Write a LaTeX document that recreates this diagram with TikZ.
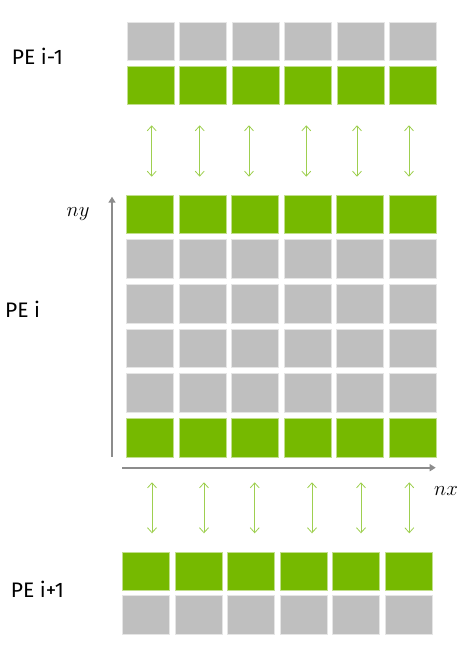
\documentclass[tikz,border=0pt]{standalone}
\usepackage{fontspec}
\setmainfont{Fira Sans}
\usetikzlibrary{arrows.meta}
\definecolor{nvgreen}{HTML}{76B900}
\definecolor{cellgray}{HTML}{BFBFBF}
\definecolor{axisgray}{HTML}{8C8C8C}
\definecolor{arrowgreen}{HTML}{9ECF4F}
\begin{document}
\begin{tikzpicture}[x=1pt,y=-1pt,
  cell/.style={minimum width=47pt,minimum height=38.7pt,inner sep=0pt,outer sep=0pt,anchor=north west,line width=0.8pt},
  gcell/.style={cell,fill=nvgreen,draw=nvgreen!45!white},
  scell/.style={cell,fill=cellgray,draw=cellgray!40!white},
  xchg/.style={draw=arrowgreen,line width=0.8pt,{Straight Barb[length=5pt,width=9pt]}-{Straight Barb[length=5pt,width=9pt]}},
  axis/.style={draw=axisgray,line width=1.8pt,-{Triangle[length=6pt,width=7pt]}},
  pelabel/.style={anchor=west,inner sep=0pt,font=\fontsize{21}{25}\selectfont},
  mlabel/.style={anchor=base west,inner sep=0pt,font=\fontsize{21}{25}\selectfont}
]
\useasboundingbox (0,0) rectangle (473,666);
% top block (PE i-1)
\foreach \c in {0,...,5}{
  \node[scell] (ta\c) at ({127+52.54*\c},22) {};
  \node[gcell] (tb\c) at ({127+52.54*\c},66) {};
}
% middle block (PE i)
\foreach \r in {0,...,5}{
  \foreach \c in {0,...,5}{
    \ifnum\r=0 \def\sty{gcell}\else\ifnum\r=5 \def\sty{gcell}\else\def\sty{scell}\fi\fi
    \node[\sty] (m\r-\c) at ({126.5+52.54*\c},{195+44.66*\r}) {};
  }
}
% bottom block (PE i+1)
\foreach \c in {0,...,5}{
  \node[gcell] (ba\c) at ({122.7+52.54*\c},552) {};
  \node[scell] (bb\c) at ({122.7+52.54*\c},595.7) {};
}
% exchange arrows
\foreach \x [count=\i] in {151.7,199.7,249,306.3,357,409}{
  \coordinate (ut\i) at (\x,125.3);
  \coordinate (ub\i) at (\x,176.7);
  \draw[xchg] (ut\i) -- (ub\i);
}
\foreach \x [count=\i] in {152,204,254.7,312,361,409.3}{
  \coordinate (lt\i) at (\x,482.3);
  \coordinate (lb\i) at (\x,533.3);
  \draw[xchg] (lt\i) -- (lb\i);
}
% axes
\coordinate (yo) at (112,456.7);
\coordinate (ye) at (112,196.7);
\coordinate (xo) at (122.3,467.7);
\coordinate (xe) at (435.7,467.7);
\draw[axis] (yo) -- (ye);
\draw[axis] (xo) -- (xe);
\node[mlabel] (ny) at (66.5,216) {$ny$};
\node[mlabel] (nx) at (434,495) {$nx$};
% labels
\node[pelabel] (pe1) at (11.7,56.7) {PE i-1};
\node[pelabel] (pe2) at (5,309.2) {PE i};
\node[pelabel] (pe3) at (10.7,589) {PE i+1};
\end{tikzpicture}
\end{document}
